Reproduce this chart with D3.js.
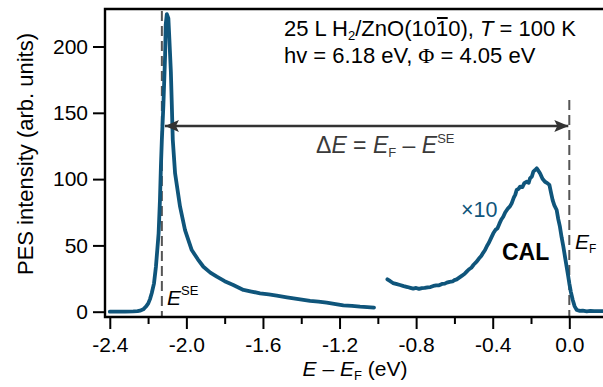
<!DOCTYPE html>
<html><head><meta charset="utf-8">
<script src="https://cdn.jsdelivr.net/npm/d3@7"></script>
<style>
body{margin:0;background:#fff;}
text{font-family:"Liberation Sans",Arial,Helvetica,sans-serif;}
</style></head>
<body>
<svg id="c" width="603" height="387"></svg>
<script>
// ---- data ----
const energyMain = [-2.400,-2.360,-2.320,-2.277,-2.255,-2.242,-2.225,-2.211,-2.199,-2.190,-2.181,-2.169,-2.159,-2.152,-2.145,-2.138,-2.133,-2.128,-2.120,-2.111,-2.108,-2.102,-2.094,-2.089,-2.081,-2.076,-2.071,-2.059,-2.033,-2.007,-1.972,-1.940,-1.911,-1.875,-1.841,-1.800,-1.755,-1.702,-1.660,-1.615,-1.570,-1.528,-1.475,-1.423,-1.354,-1.310,-1.267,-1.220,-1.180,-1.135,-1.093,-1.055,-1.020];
const intensityMain = [0.0,0.1,0.0,0.2,0.4,0.8,1.8,3.9,6.3,9.5,13.9,21.4,33.9,46.5,59.1,84.2,109.4,130,155.9,193.6,216.2,224.5,221.3,206.2,181.0,155.9,129.6,104.4,79.2,61.6,46.5,39.5,33.9,29.5,26.4,23.0,20.1,16.4,15.2,13.9,13.0,12.1,10.8,9.6,8.1,7.6,6.8,5.8,4.8,4.4,3.8,3.4,3.0];
const energyCAL = [-0.950,-0.935,-0.921,-0.905,-0.884,-0.865,-0.845,-0.830,-0.815,-0.800,-0.785,-0.770,-0.755,-0.740,-0.725,-0.710,-0.695,-0.680,-0.665,-0.650,-0.640,-0.625,-0.610,-0.600,-0.588,-0.575,-0.560,-0.548,-0.536,-0.525,-0.512,-0.500,-0.484,-0.472,-0.460,-0.450,-0.440,-0.430,-0.420,-0.410,-0.397,-0.385,-0.375,-0.365,-0.355,-0.345,-0.335,-0.320,-0.310,-0.301,-0.290,-0.282,-0.275,-0.265,-0.257,-0.245,-0.235,-0.222,-0.212,-0.205,-0.195,-0.188,-0.178,-0.170,-0.162,-0.153,-0.140,-0.127,-0.115,-0.104,-0.095,-0.087,-0.078,-0.066,-0.058,-0.049,-0.040,-0.031,-0.022,-0.014,-0.006,0.000,0.008,0.018,0.028,0.039,0.055,0.070,0.091,0.110,0.130,0.150,0.174];
const intensityCAL = [24.4,23.0,21.6,21.0,20.1,19.3,18.6,18.0,17.4,17.9,17.2,17.8,17.9,18.4,18.6,19.4,19.8,19.9,20.9,21.2,21.9,22.5,22.8,23.8,24.4,25.7,27.2,28.4,30.2,31.8,33.1,35.4,37.7,40.1,42.0,44.4,46.5,49.6,52.0,55.1,59.1,61.8,63.0,66.4,69.5,71.6,74.8,78.0,79.4,81.7,86.0,88.3,91.8,92.6,94.3,94.0,96.9,98.0,97.2,100.6,102.1,105.6,106.9,108.1,106.4,104.4,100.2,98.0,97.0,95.6,89.5,84.2,80.2,76.7,70.0,64.1,56.0,49.0,41.0,33.9,27.0,21.4,15.0,8.8,4.0,1.3,0.6,0.8,0.3,0.6,0.4,0.5,0.4];
const xMajorTicks = [-2.4,-2.0,-1.6,-1.2,-0.8,-0.4,0.0];
const xMinorTicks = [-2.2,-1.8,-1.4,-1.0,-0.6,-0.2];
const yTicks = [0,50,100,150,200];
const eSE = -2.128;
const eF = 0.0;

// ---- layout ----
const L=105, R=603, T=9, B=317;
const x = d3.scaleLinear().domain([-2.425,0.176]).range([L,R]);
const y = d3.scaleLinear().domain([-4.0,228.3]).range([B,T]);
const svg = d3.select("#c");
const blue = "#0f557b";
const fs = 21;

// dashed lines
svg.append("line").attr("x1",x(eSE)).attr("x2",x(eSE)).attr("y1",11).attr("y2",B)
  .attr("stroke","#555").attr("stroke-width",2).attr("stroke-dasharray","10,5");
svg.append("line").attr("x1",x(eF)).attr("x2",x(eF)).attr("y1",100).attr("y2",B)
  .attr("stroke","#555").attr("stroke-width",2).attr("stroke-dasharray","10,5");

// curves
const line = d3.line().x(d=>x(d[0])).y(d=>y(d[1]));
svg.append("path").datum(energyMain.map((e,i)=>[e,intensityMain[i]]))
  .attr("d",line).attr("fill","none").attr("stroke",blue).attr("stroke-width",3.8)
  .attr("stroke-linejoin","round").attr("stroke-linecap","round");
svg.append("path").datum(energyCAL.map((e,i)=>[e,intensityCAL[i]]))
  .attr("d",line).attr("fill","none").attr("stroke",blue).attr("stroke-width",3.8)
  .attr("stroke-linejoin","round").attr("stroke-linecap","round");

// double arrow
const defs = svg.append("defs");
defs.append("marker").attr("id","ah").attr("viewBox","0 0 14 12").attr("refX",14).attr("refY",6)
  .attr("markerWidth",14).attr("markerHeight",12).attr("markerUnits","userSpaceOnUse").attr("orient","auto-start-reverse")
  .append("path").attr("d","M0,0 L14,6 L0,12 L3,6 Z").attr("fill","#333");
const ay = 126;
svg.append("line").attr("x1",x(-2.112)).attr("x2",x(eF)-1).attr("y1",ay).attr("y2",ay)
  .attr("stroke","#333").attr("stroke-width",2.5)
  .attr("marker-start","url(#ah)").attr("marker-end","url(#ah)");

// axes
const xAxis = svg.append("g").attr("transform",`translate(0,${B})`)
  .call(d3.axisBottom(x).tickValues(xMajorTicks).tickSize(12).tickFormat(d3.format(".1f")));
xAxis.select(".domain").remove();
xAxis.selectAll(".tick line").attr("stroke","#000").attr("stroke-width",2);
xAxis.selectAll(".tick text").attr("font-size",fs).attr("font-family","Liberation Sans, Arial, sans-serif")
  .attr("y",20).attr("fill","#000").text(d=>d3.format(".1f")(d).replace("−","-"));
const xMinor = svg.append("g").attr("transform",`translate(0,${B})`)
  .call(d3.axisBottom(x).tickValues(xMinorTicks).tickSize(7).tickFormat(""));
xMinor.select(".domain").remove();
xMinor.selectAll(".tick line").attr("stroke","#000").attr("stroke-width",2);

const yAxis = svg.append("g").attr("transform",`translate(${L},0)`)
  .call(d3.axisLeft(y).tickValues(yTicks).tickSize(12).tickPadding(5));
yAxis.select(".domain").remove();
yAxis.selectAll(".tick line").attr("stroke","#000").attr("stroke-width",2);
yAxis.selectAll(".tick text").attr("font-size",fs).attr("font-family","Liberation Sans, Arial, sans-serif").attr("fill","#000");

// frame
svg.append("path").attr("d",`M${R+2},${T} H${L} V${B} H${R+2}`).attr("fill","none")
  .attr("stroke","#000").attr("stroke-width",2.4);

// y label
svg.append("text").attr("transform","translate(33,154) rotate(-90)").attr("text-anchor","middle")
  .attr("font-size",22).text("PES intensity (arb. units)");

// x label
const xl = svg.append("text").attr("x",355).attr("y",376).attr("text-anchor","middle").attr("font-size",fs);
xl.append("tspan").attr("font-style","italic").text("E");
xl.append("tspan").text(" – ");
xl.append("tspan").attr("font-style","italic").text("E");
xl.append("tspan").attr("font-size",13).attr("dy",4).text("F");
xl.append("tspan").attr("dy",-4).text(" (eV)");

// annotation
const afs = 22;
const t1 = svg.append("text").attr("x",284).attr("y",36).attr("font-size",afs);
t1.append("tspan").text("25 L H");
t1.append("tspan").attr("font-size",13).attr("dy",4).text("2");
t1.append("tspan").attr("dy",-4).text("/ZnO(10");
const one = t1.append("tspan").text("1");
t1.append("tspan").text("0), ");
t1.append("tspan").attr("font-style","italic").text("T");
t1.append("tspan").text(" = 100 K");
const bb = one.node().getBBox();
svg.append("line").attr("x1",bb.x+1).attr("x2",bb.x+bb.width-0.5).attr("y1",bb.y+2).attr("y2",bb.y+2)
  .attr("stroke","#000").attr("stroke-width",2);

const t2 = svg.append("text").attr("x",284).attr("y",63).attr("font-size",afs);
t2.append("tspan").text("hv = 6.18 eV, ");
t2.append("tspan").attr("font-family","Liberation Serif, serif").text("Φ");
t2.append("tspan").text(" = 4.05 eV");

// delta E label
const de = svg.append("text").attr("x",316).attr("y",153).attr("font-size",23).attr("fill","#3a3a3a");
de.append("tspan").text("Δ");
de.append("tspan").attr("font-style","italic").text("E");
de.append("tspan").text(" = ");
de.append("tspan").attr("font-style","italic").text("E");
de.append("tspan").attr("font-size",13).attr("dy",4).text("F");
de.append("tspan").attr("dy",-4).text(" – ");
de.append("tspan").attr("font-style","italic").text("E");
de.append("tspan").attr("font-size",13).attr("dy",-10).text("SE");

// E^SE label
const es = svg.append("text").attr("x",167).attr("y",305).attr("font-size",fs);
es.append("tspan").attr("font-style","italic").text("E");
es.append("tspan").attr("font-size",13).attr("dy",-10).text("SE");

// E_F label
const ef = svg.append("text").attr("x",575).attr("y",249).attr("font-size",fs);
ef.append("tspan").attr("font-style","italic").text("E");
ef.append("tspan").attr("font-size",12).attr("dy",4).text("F");

// x10 & CAL
svg.append("text").attr("x",461).attr("y",217).attr("font-size",21.5).attr("fill",blue).text("×10");
svg.append("text").attr("x",502).attr("y",260).attr("font-size",23).attr("font-weight","bold").text("CAL");
</script>
</body></html>
